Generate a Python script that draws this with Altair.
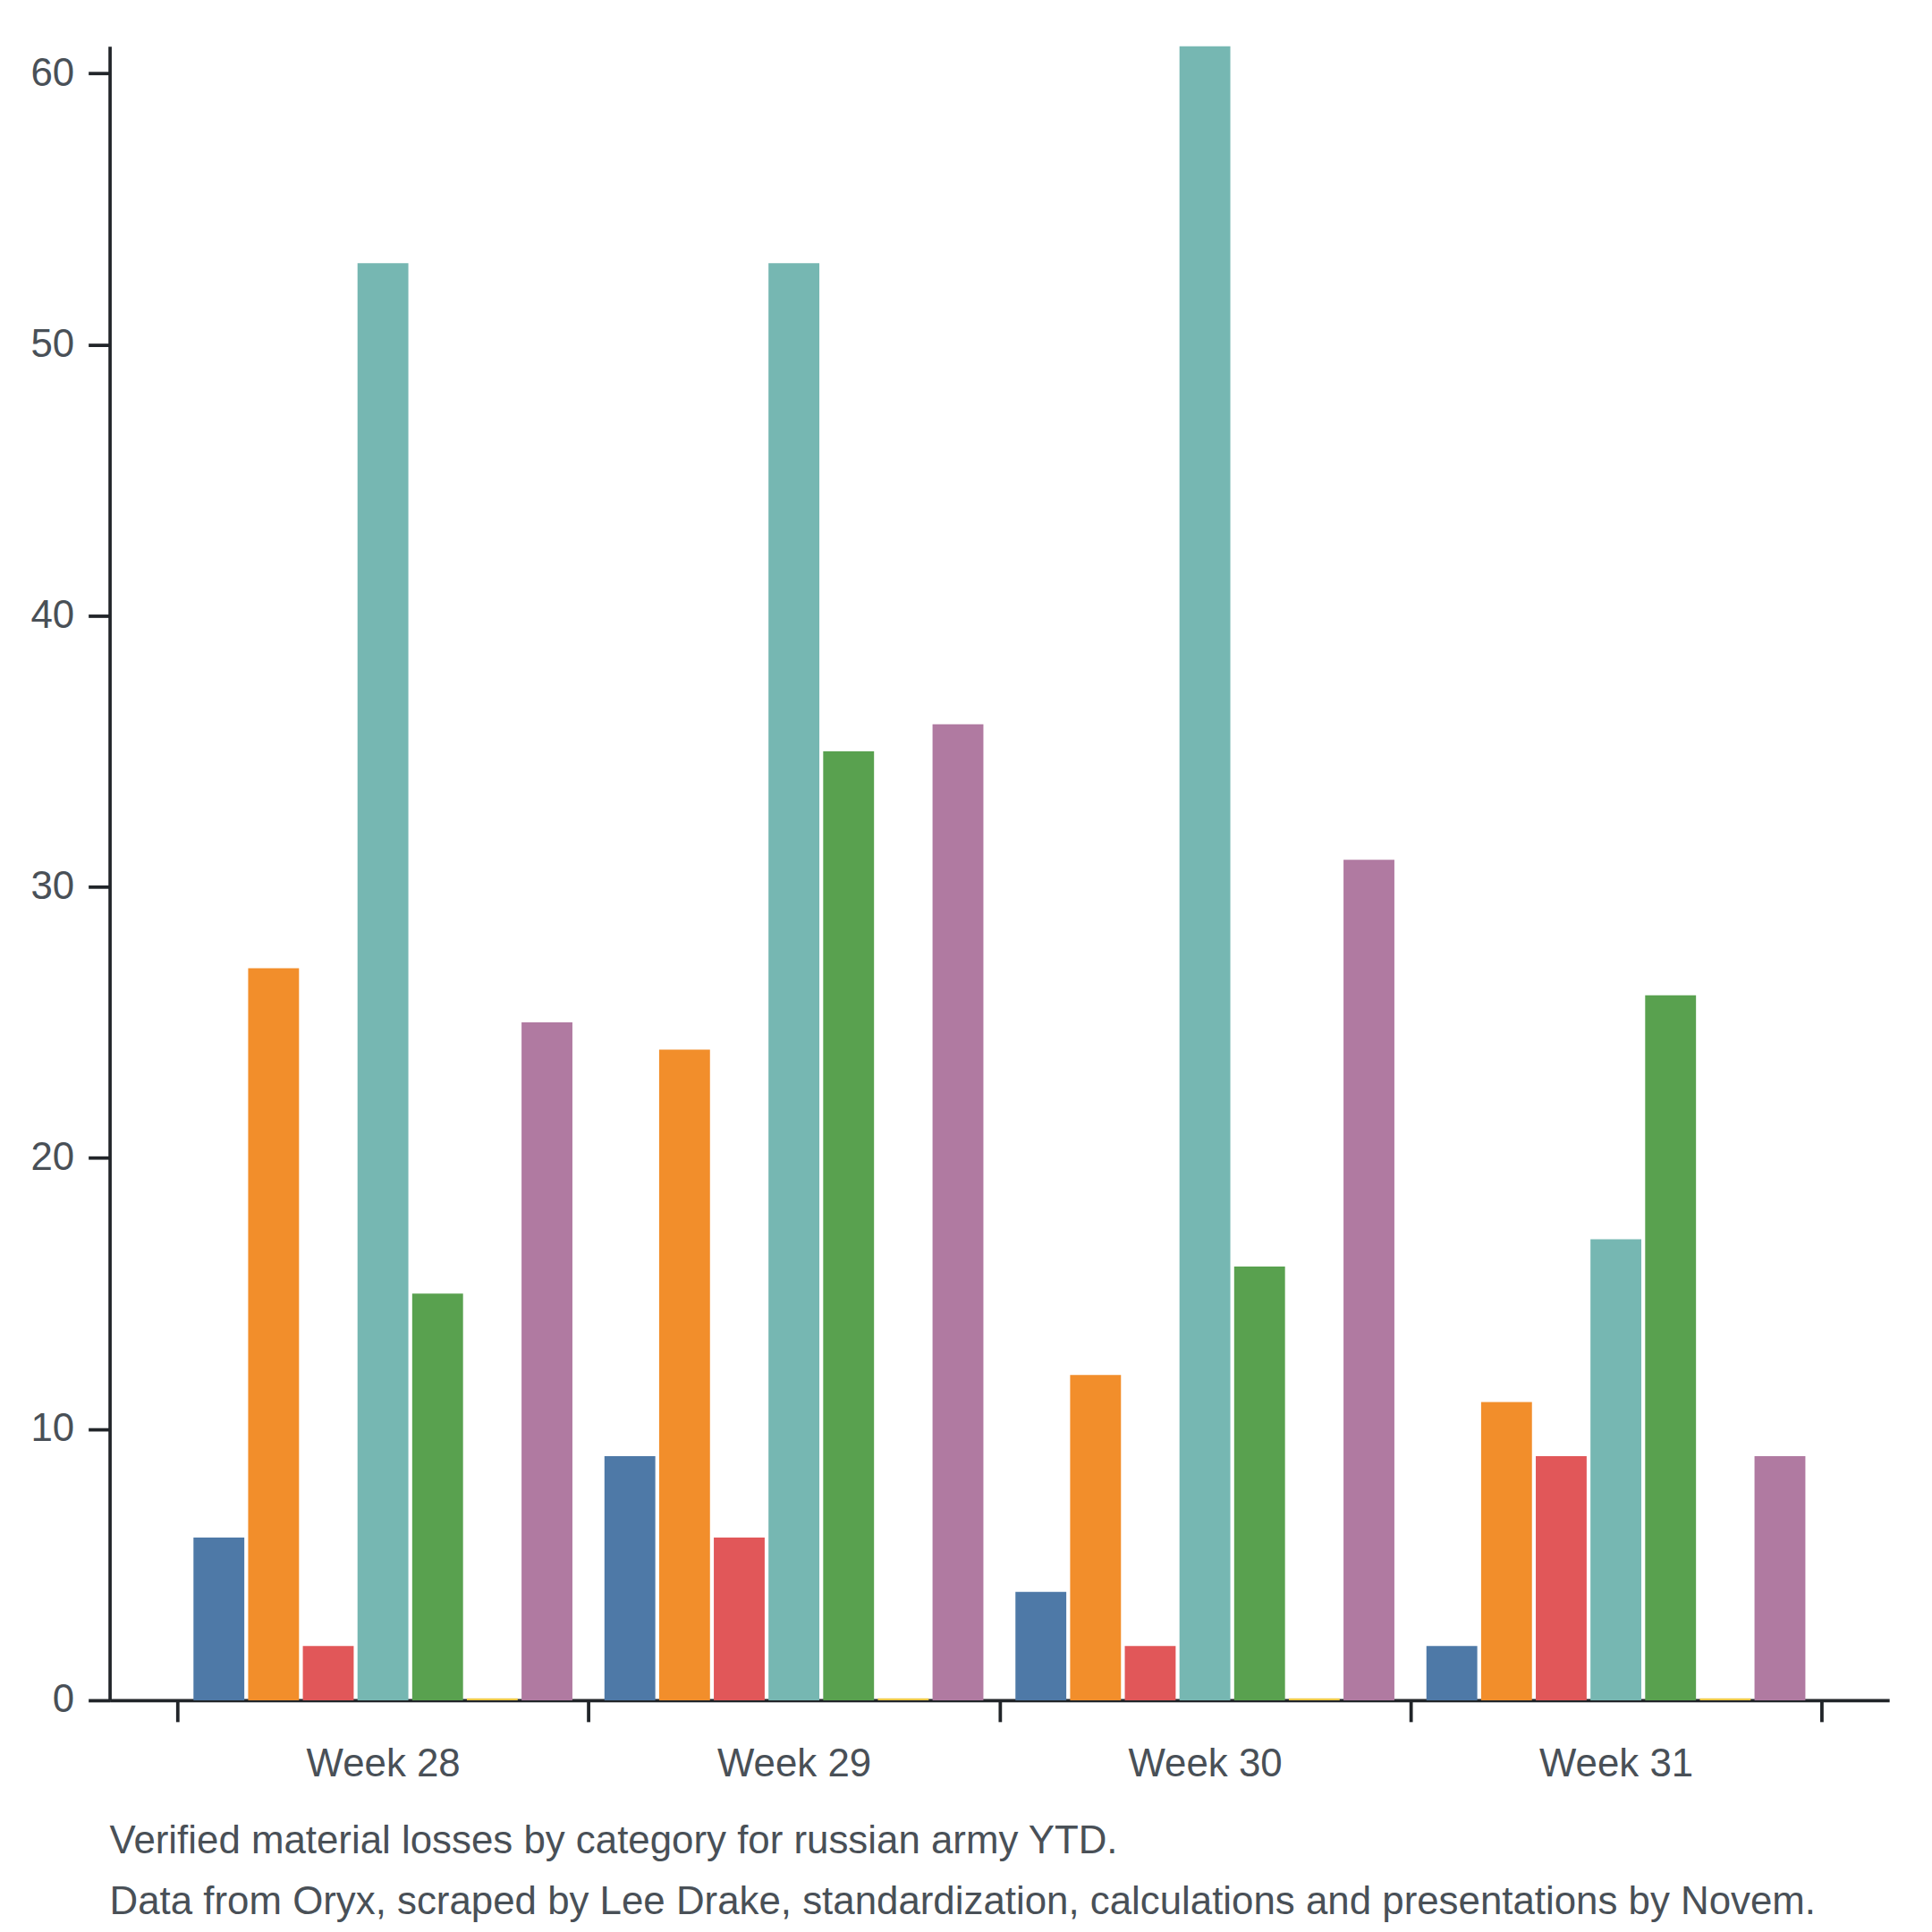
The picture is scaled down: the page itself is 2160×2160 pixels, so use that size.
import altair as alt
import pandas as pd

weeks = ["Week 28", "Week 29", "Week 30", "Week 31"]
categories = [
    "Tanks",
    "Armoured Fighting Vehicles",
    "Infantry Fighting Vehicles",
    "Armoured Personnel Carriers",
    "Artillery",
    "Aircraft",
    "Trucks, Vehicles and Jeeps",
]
colors = ["#4e79a7", "#f28e2b", "#e15759", "#76b7b2", "#59a14f", "#edc948", "#b07aa1"]

tanks = [6, 9, 4, 2]
afv = [27, 24, 12, 11]
ifv = [2, 6, 2, 9]
apc = [53, 53, 61, 17]
artillery = [15, 35, 16, 26]
aircraft = [0.07, 0.07, 0.07, 0.07]
trucks = [25, 36, 31, 9]

series = [tanks, afv, ifv, apc, artillery, aircraft, trucks]
rows = []
for cat, vals in zip(categories, series):
    for w, v in zip(weeks, vals):
        rows.append({"week": w, "category": cat, "value": v})
df = pd.DataFrame(rows)

caption = [
    "Verified material losses by category for russian army YTD.",
    "Data from Oryx, scraped by Lee Drake, standardization, calculations and presentations by Novem.",
]

FONT = "Liberation Sans"
AX = "#212529"
TXT = "#495057"

chart = alt.Chart(df).mark_bar().encode(
    x=alt.X(
        "week:N",
        sort=weeks,
        scale=alt.Scale(paddingInner=0, paddingOuter=0.165),
        axis=alt.Axis(
            title=None,
            labelAngle=0,
            tickBand="extent",
            tickSize=24,
            tickWidth=3.8,
            tickColor=AX,
            domainColor=AX,
            domainWidth=3.7,
            labelFont=FONT,
            labelFontSize=44,
            labelColor=TXT,
            labelPadding=26,
        ),
    ),
    xOffset=alt.XOffset(
        "category:N",
        sort=categories,
        scale=alt.Scale(paddingInner=0.07, paddingOuter=0.293),
    ),
    y=alt.Y(
        "value:Q",
        scale=alt.Scale(domain=[0, 61], nice=False),
        axis=alt.Axis(
            title=None,
            values=[0, 10, 20, 30, 40, 50, 60],
            grid=False,
            tickSize=24,
            tickWidth=3.8,
            tickColor=AX,
            domainColor=AX,
            domainWidth=3.7,
            labelFont=FONT,
            labelFontSize=44,
            labelColor=TXT,
            labelPadding=16,
        ),
    ),
    color=alt.Color(
        "category:N",
        sort=categories,
        scale=alt.Scale(domain=categories, range=colors),
        legend=None,
    ),
).properties(
    width=1997,
    height=1856,
    autosize="none",
    padding={"left": 115, "top": 40, "right": 40, "bottom": 248},
    title=alt.TitleParams(
        text=caption,
        orient="bottom",
        anchor="start",
        frame="group",
        font=FONT,
        fontSize=44,
        fontWeight="normal",
        color=TXT,
        lineHeight=68,
        offset=43,
    ),
).configure_view(stroke=None)

chart.save("out.html", embed_options={"renderer": "svg", "actions": False})
